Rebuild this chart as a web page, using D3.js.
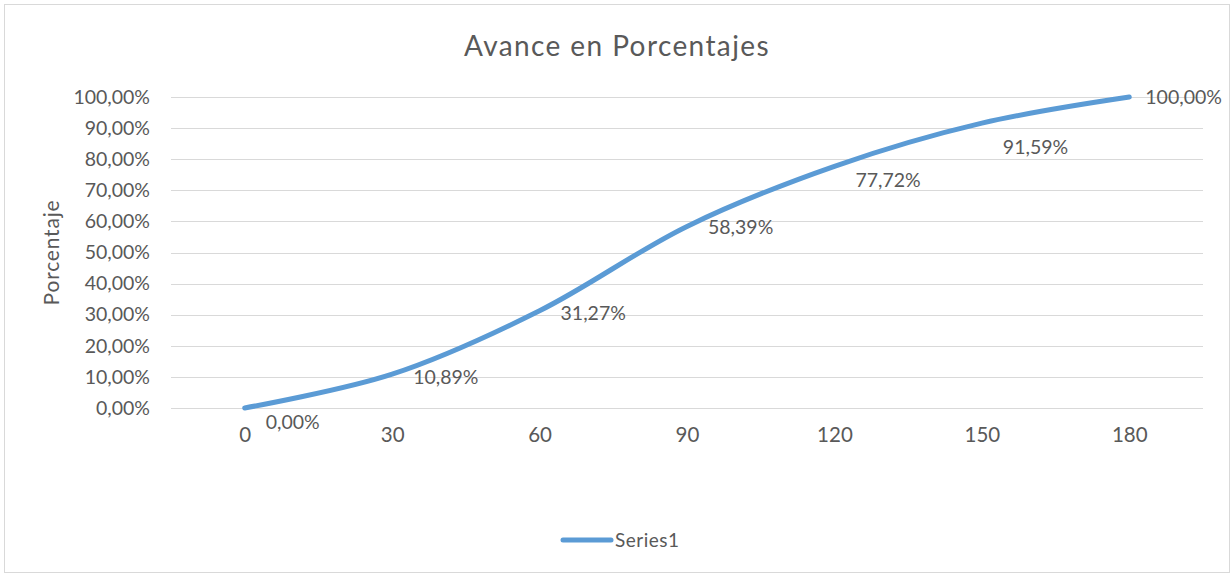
<!DOCTYPE html>
<html>
<meta charset="utf-8">
<style>
    body { margin: 0; background: #fff; }
    text { font-family: Lato, "Open Sans", sans-serif; fill: #595959; }
    .grid line { stroke: #d9d9d9; shape-rendering: crispEdges; }
</style>
<body>
<script src="https://d3js.org/d3.v7.min.js"></script>
<script>

    // data
    var days = ["0", "30", "60", "90", "120", "150", "180"];
    var avance = [0, 0.1089, 0.3127, 0.5839, 0.7772, 0.9159, 1.0];
    var yTicks = [0, 0.1, 0.2, 0.3, 0.4, 0.5, 0.6, 0.7, 0.8, 0.9, 1.0];
    // label vertical nudges as in the original layout
    var labelDy = [14, 3, 2, 1, 14, 24, 0];

    var width = 1231, height = 574;
    var plot = {left: 171, right: 1203, top: 97, bottom: 408};

    var fmt = function(v) { return (v * 100).toFixed(2).replace(".", ",") + "%"; };

    var svg = d3.select("body").append("svg")
        .attr("width", width)
        .attr("height", height);

    svg.append("rect")
        .attr("x", 4.5).attr("y", 4.5)
        .attr("width", 1225).attr("height", 568)
        .attr("fill", "#fff")
        .attr("stroke", "#d9d9d9");

    var x = d3.scalePoint()
        .domain(days)
        .range([plot.left, plot.right])
        .padding(0.5);

    var y = d3.scaleLinear()
        .domain([0, 1])
        .range([plot.bottom, plot.top]);

    // grid + y labels
    svg.append("g")
        .attr("class", "grid")
        .attr("transform", "translate(" + plot.left + ",0)")
        .call(d3.axisLeft(y).tickValues(yTicks).tickSize(-(plot.right - plot.left)).tickFormat(fmt).tickPadding(21))
        .call(function(g) { g.select(".domain").remove(); })
        .call(function(g) { g.selectAll("text").style("font-size", "19.5px").attr("fill", "#595959"); });

    // x labels
    svg.append("g")
        .attr("transform", "translate(0," + plot.bottom + ")")
        .call(d3.axisBottom(x).tickSize(0).tickPadding(19))
        .call(function(g) { g.select(".domain").remove(); })
        .call(function(g) { g.selectAll("text").style("font-size", "20.5px").attr("fill", "#595959"); });

    var line = d3.line()
        .x(function(d, i) { return x(days[i]); })
        .y(function(d) { return y(d); })
        .curve(d3.curveCatmullRom);

    svg.append("path")
        .datum(avance)
        .attr("d", line)
        .attr("fill", "none")
        .attr("stroke", "#5b9bd5")
        .attr("stroke-width", 5)
        .attr("stroke-linecap", "round");

    svg.selectAll(".lbl")
        .data(avance)
        .enter()
        .append("text")
        .attr("class", "lbl")
        .attr("x", function(d, i) { return x(days[i]) + (i == 6 ? 16 : 21); })
        .attr("y", function(d, i) { return y(d) + labelDy[i]; })
        .attr("dy", "0.35em")
        .style("font-size", "19.5px")
        .text(fmt);

    svg.append("text")
        .attr("x", 617)
        .attr("y", 56)
        .attr("text-anchor", "middle")
        .style("font-size", "28px")
        .style("letter-spacing", "1.4px")
        .text("Avance en Porcentajes");

    svg.append("text")
        .attr("transform", "translate(59," + ((plot.top + plot.bottom) / 2) + ") rotate(-90)")
        .attr("text-anchor", "middle")
        .style("font-size", "21px")
        .style("letter-spacing", "0.8px")
        .text("Porcentaje");

    // legend
    svg.append("line")
        .attr("x1", 563).attr("x2", 611)
        .attr("y1", 540).attr("y2", 540)
        .attr("stroke", "#5b9bd5")
        .attr("stroke-width", 5)
        .attr("stroke-linecap", "round");

    svg.append("text")
        .attr("x", 615)
        .attr("y", 540)
        .attr("dy", "0.35em")
        .style("font-size", "19px")
        .style("letter-spacing", "0.5px")
        .text("Series1");

</script>
</html>
